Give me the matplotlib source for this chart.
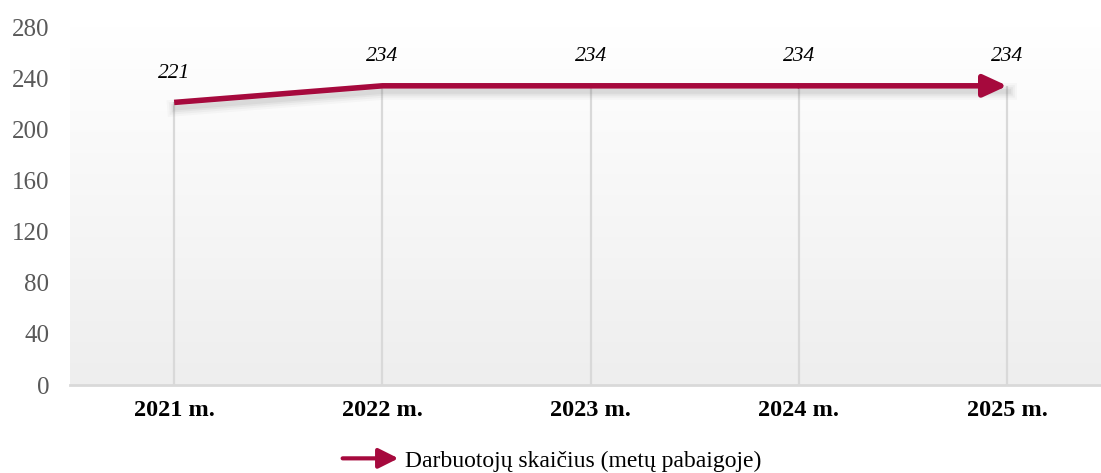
import matplotlib.pyplot as plt
import matplotlib.patheffects as pe
from matplotlib.patches import FancyArrowPatch
from matplotlib.legend_handler import HandlerBase
from matplotlib.colors import LinearSegmentedColormap
import numpy as np

years = ['2021 m.', '2022 m.', '2023 m.', '2024 m.', '2025 m.']
workers = [221, 234, 234, 234, 234]
yticks = [0, 40, 80, 120, 160, 200, 240, 280]
series_name = 'Darbuotojų skaičius (metų pabaigoje)'

red = '#A6093D'
grid = '#d9d9d9'

plt.rcParams['font.family'] = ['Liberation Serif', 'DejaVu Serif']


class ArrowHandler(HandlerBase):
    def create_artists(self, legend, orig_handle, xdescent, ydescent, width, height, fontsize, trans):
        y = height / 2 - ydescent
        a = FancyArrowPatch((-xdescent, y), (width - xdescent, y),
                            arrowstyle='-|>,head_length=0.6,head_width=0.3',
                            mutation_scale=20, lw=3, color=red, transform=trans)
        return [a]


fig = plt.figure(figsize=(11.01, 4.73), dpi=100)
ax = fig.add_axes([70 / 1101, 88 / 473, 1 - 70 / 1101, (385 - 27) / 473])
x = np.arange(len(years))

# gradient background
grad = np.linspace(0, 1, 256).reshape(-1, 1)
cmap = LinearSegmentedColormap.from_list('g', ['#eeeeee', '#ffffff'])
ax.imshow(grad, extent=(-0.5, 4.45, 0, 280), aspect='auto', cmap=cmap,
          origin='lower', zorder=0, vmin=0, vmax=1)

# drop lines
ax.vlines(x, 0, workers, colors=grid, lw=1.6, zorder=1)

# soft shadow: a few blurred layers
soft = [pe.SimpleLineShadow(offset=(1, -4), shadow_color='#666666', alpha=a, linewidth=w)
        for w, a in [(12, 0.04), (9, 0.05), (6, 0.07), (3.5, 0.08)]]
ax.plot(x, workers, color='none', lw=4, zorder=2, path_effects=soft)

ax.plot(x[:-1], workers[:-1], color=red, lw=4, zorder=3, solid_capstyle='butt')
ax.annotate('', xy=(x[-1], workers[-1]), xytext=(x[-2], workers[-2]),
            arrowprops=dict(arrowstyle='-|>,head_length=0.65,head_width=0.3', color=red, lw=4,
                            mutation_scale=22, shrinkA=0, shrinkB=0), zorder=3)

for xi, v in zip(x, workers):
    ax.annotate(str(v), (xi, v), xytext=(0, 21), textcoords='offset points', ha='center',
                va='center', fontsize=15.5, style='italic', color='black')

ax.set_xlim(-0.5, 4.45)
ax.set_ylim(0, 280)
ax.set_yticks(yticks)
ax.set_xticks(x)
ax.set_xticklabels(years, fontsize=17.5, fontweight='bold')
ax.tick_params(axis='y', length=0, pad=15, labelsize=18, labelcolor='#595959')
ax.tick_params(axis='x', length=0, pad=11)
for s in ['top', 'right', 'left']:
    ax.spines[s].set_visible(False)
ax.spines['bottom'].set_color(grid)
ax.spines['bottom'].set_linewidth(2)

handle = object()
fig.legend([handle], [series_name], handler_map={object: ArrowHandler()}, loc='lower center',
           bbox_to_anchor=(0.5, -0.042), frameon=False, fontsize=17, handlelength=2.6,
           handletextpad=0.15)

fig.savefig('out.png', dpi=100)
